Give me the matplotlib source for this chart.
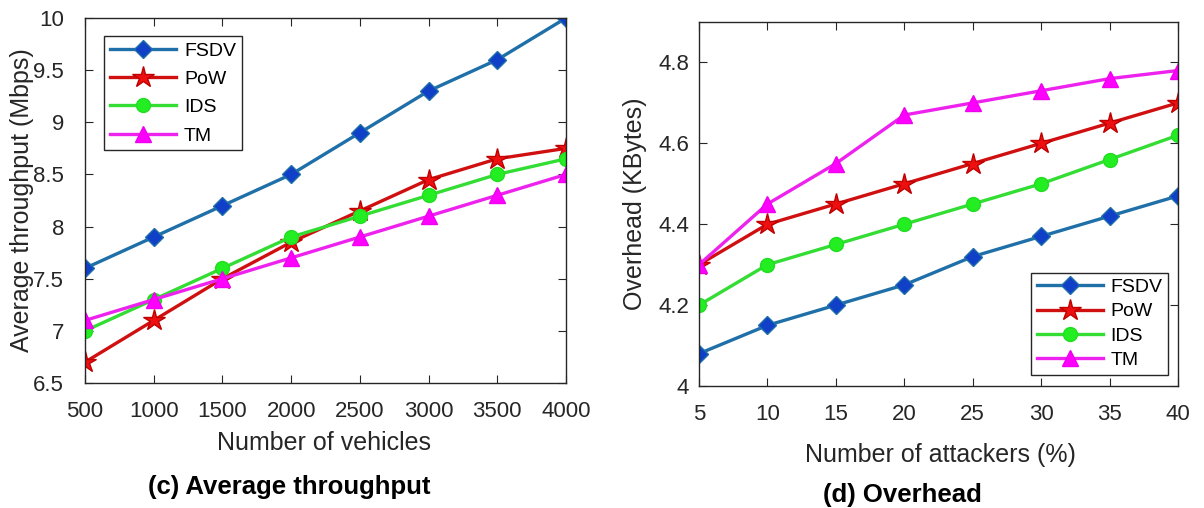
import numpy as np
import matplotlib.pyplot as plt

plt.rcParams['font.family'] = ['Liberation Sans', 'DejaVu Sans']

vehicles = [500, 1000, 1500, 2000, 2500, 3000, 3500, 4000]
thr_fsdv = [7.6, 7.9, 8.2, 8.5, 8.9, 9.3, 9.6, 10.0]
thr_pow = [6.7, 7.1, 7.5, 7.85, 8.15, 8.45, 8.65, 8.75]
thr_ids = [7.0, 7.3, 7.6, 7.9, 8.1, 8.3, 8.5, 8.65]
thr_tm = [7.1, 7.3, 7.5, 7.7, 7.9, 8.1, 8.3, 8.5]

attackers = [5, 10, 15, 20, 25, 30, 35, 40]
ovh_fsdv = [4.08, 4.15, 4.2, 4.25, 4.32, 4.37, 4.42, 4.47]
ovh_pow = [4.3, 4.4, 4.45, 4.5, 4.55, 4.6, 4.65, 4.7]
ovh_ids = [4.2, 4.3, 4.35, 4.4, 4.45, 4.5, 4.56, 4.62]
ovh_tm = [4.3, 4.45, 4.55, 4.67, 4.7, 4.73, 4.76, 4.78]

names = ["FSDV", "PoW", "IDS", "TM"]
styles = [
    dict(color="#1f6fa8", marker="D", markersize=9, markerfacecolor="#1040c8", markeredgecolor="#1f6fa8"),
    dict(color="#d01010", marker="*", markersize=16, markerfacecolor="#ee1010", markeredgecolor="#c00000"),
    dict(color="#33dd33", marker="o", markersize=10, markerfacecolor="#22ee22", markeredgecolor="#22dd22"),
    dict(color="#ee22ee", marker="^", markersize=11, markerfacecolor="#ff00ff", markeredgecolor="#ee00ee"),
]
dark = "#262626"

fig = plt.figure(figsize=(12.04, 5.08), dpi=100)
ax1 = fig.add_axes([85 / 1204, 1 - 383 / 508, 481 / 1204, 365 / 508])
ax2 = fig.add_axes([699 / 1204, 1 - 386 / 508, 479 / 1204, 364 / 508])


def style_axes(ax, ypad):
    ax.tick_params(direction="in", top=True, right=True, labelsize=16, length=6, colors=dark)
    ax.tick_params(axis="x", pad=13)
    ax.tick_params(axis="y", pad=ypad)
    for s in ax.spines.values():
        s.set_color(dark)
        s.set_linewidth(1.0)


for vals, name, st in zip([thr_fsdv, thr_pow, thr_ids, thr_tm], names, styles):
    ax1.plot(vehicles, vals, linewidth=2.4, label=name, **st)
ax1.set_xlim(500, 4000)
ax1.set_ylim(6.5, 10)
ax1.set_xticks(vehicles)
ax1.set_yticks([6.5, 7, 7.5, 8, 8.5, 9, 9.5, 10])
ax1.set_yticklabels(["6.5", "7", "7.5", "8", "8.5", "9", "9.5", "10"])
ax1.set_xlabel("Number of vehicles", fontsize=18, color=dark, va="center")
ax1.set_ylabel("Average throughput (Mbps)", fontsize=18, color=dark, va="center")
ax1.xaxis.set_label_coords(0.497, -0.164)
ax1.yaxis.set_label_coords(-0.131, 0.5)
style_axes(ax1, 15)
ax1.legend(loc="upper left", bbox_to_anchor=(0.04, 0.95), fontsize=14, fancybox=False,
           edgecolor=dark, framealpha=1, handlelength=3.4, borderpad=0.3, labelspacing=0.55,
           handletextpad=0.4, borderaxespad=0)

for vals, name, st in zip([ovh_fsdv, ovh_pow, ovh_ids, ovh_tm], names, styles):
    ax2.plot(attackers, vals, linewidth=2.4, label=name, **st)
ax2.set_xlim(5, 40)
ax2.set_ylim(4, 4.9)
ax2.set_xticks(attackers)
ax2.set_yticks([4, 4.2, 4.4, 4.6, 4.8])
ax2.set_yticklabels(["4", "4.2", "4.4", "4.6", "4.8"])
ax2.set_xlabel("Number of attackers (%)", fontsize=18, color=dark, va="center")
ax2.set_ylabel("Overhead (KBytes)", fontsize=18, color=dark, va="center")
ax2.xaxis.set_label_coords(0.505, -0.19)
ax2.yaxis.set_label_coords(-0.134, 0.5)
style_axes(ax2, 7)
ax2.legend(loc="lower right", bbox_to_anchor=(0.98, 0.03), fontsize=14, fancybox=False,
           edgecolor=dark, framealpha=1, handlelength=3.4, borderpad=0.3, labelspacing=0.35,
           handletextpad=0.4, borderaxespad=0)

fig.text(289 / 1204, 1 - 487 / 508, "(c) Average throughput", ha="center", va="center",
         fontsize=18.5, fontweight="bold")
fig.text(902 / 1204, 1 - 495 / 508, "(d) Overhead", ha="center", va="center",
         fontsize=18.5, fontweight="bold")

fig.savefig("out.png", dpi=100, facecolor="white")
